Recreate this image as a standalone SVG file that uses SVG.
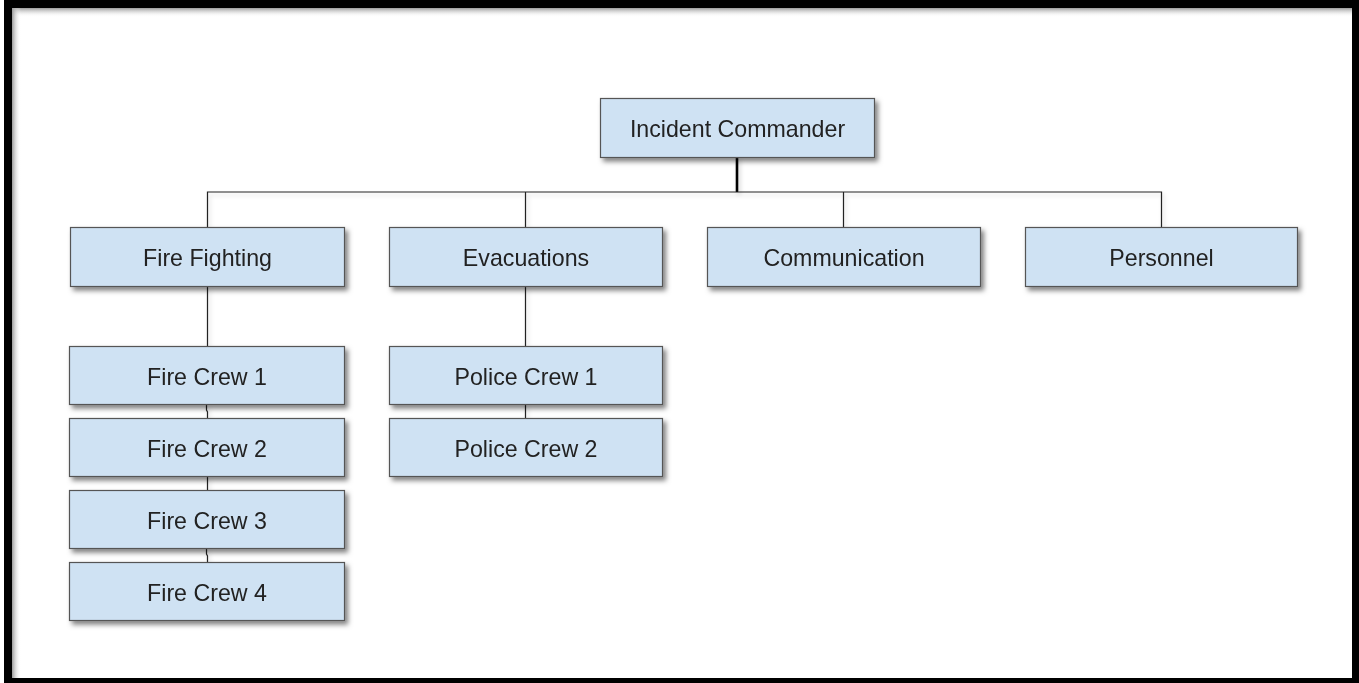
<svg xmlns="http://www.w3.org/2000/svg" width="1359" height="683" viewBox="0 0 1359 683">
<defs>
<filter id="sh" x="-10%" y="-20%" width="130%" height="160%">
<feDropShadow dx="3" dy="3.5" stdDeviation="2.5" flood-color="#000" flood-opacity="0.5"/>
</filter>
<filter id="lsh" x="-5%" y="-50%" width="110%" height="300%">
<feDropShadow dx="2" dy="3" stdDeviation="2" flood-color="#000" flood-opacity="0.18"/>
</filter>
<linearGradient id="gt" x1="0" y1="0" x2="0" y2="1">
<stop offset="0" stop-color="#9a9a9a"/>
<stop offset="1" stop-color="#ffffff" stop-opacity="0"/>
</linearGradient>
<linearGradient id="gl" x1="0" y1="0" x2="1" y2="0">
<stop offset="0" stop-color="#9a9a9a"/>
<stop offset="1" stop-color="#ffffff" stop-opacity="0"/>
</linearGradient>
</defs>
<style>
.box{fill:#cfe2f3;stroke:#555555;stroke-width:1.2}
.lbl{font-family:"Liberation Sans",Arial,sans-serif;font-size:23.2px;fill:#222;text-anchor:middle}
.ln{stroke:#222;stroke-width:1.2;fill:none}
</style>
<rect x="0" y="0" width="1359" height="683" fill="#000"/>
<rect x="0" y="0" width="4" height="683" fill="#fff"/>
<rect x="12" y="8" width="1340" height="670" fill="#fff"/>
<rect x="12" y="8" width="1340" height="9" fill="url(#gt)"/>
<rect x="12" y="8" width="9" height="670" fill="url(#gl)"/>

<g id="connectors" filter="url(#lsh)">
<line x1="737" y1="157" x2="737" y2="192" style="stroke-width:2.6;stroke:#000"/>
<polyline class="ln" points="207.5,227 207.5,192 1161.5,192 1161.5,227"/>
<line class="ln" x1="525.5" y1="192" x2="525.5" y2="227"/>
<line class="ln" x1="843.5" y1="192" x2="843.5" y2="227"/>
<line class="ln" x1="207.5" y1="287" x2="207.5" y2="346"/>
<line class="ln" x1="525.5" y1="287" x2="525.5" y2="346"/>
<path class="ln" d="M206.5 405 V410 L207.5 412 V418"/>
<line class="ln" x1="207.5" y1="477" x2="207.5" y2="490"/>
<path class="ln" d="M206.5 549 V554 L207.5 556 V562"/>
<line class="ln" x1="525.5" y1="405" x2="525.5" y2="418"/>
</g>

<g id="incident-commander" filter="url(#sh)"><rect class="box" x="600.5" y="98.5" width="274" height="59"/><text class="lbl" x="737.5" y="136.5">Incident Commander</text></g>

<g id="fire-fighting" filter="url(#sh)"><rect class="box" x="70.5" y="227.5" width="274" height="59"/><text class="lbl" x="207.5" y="265.5">Fire Fighting</text></g>
<g id="evacuations" filter="url(#sh)"><rect class="box" x="389.5" y="227.5" width="273" height="59"/><text class="lbl" x="526" y="265.5">Evacuations</text></g>
<g id="communication" filter="url(#sh)"><rect class="box" x="707.5" y="227.5" width="273" height="59"/><text class="lbl" x="844" y="265.5">Communication</text></g>
<g id="personnel" filter="url(#sh)"><rect class="box" x="1025.5" y="227.5" width="272" height="59"/><text class="lbl" x="1161.5" y="265.5">Personnel</text></g>

<g id="fire-crew-1" filter="url(#sh)"><rect class="box" x="69.5" y="346.5" width="275" height="58"/><text class="lbl" x="207" y="384.5">Fire Crew 1</text></g>
<g id="fire-crew-2" filter="url(#sh)"><rect class="box" x="69.5" y="418.5" width="275" height="58"/><text class="lbl" x="207" y="456.5">Fire Crew 2</text></g>
<g id="fire-crew-3" filter="url(#sh)"><rect class="box" x="69.5" y="490.5" width="275" height="58"/><text class="lbl" x="207" y="528.5">Fire Crew 3</text></g>
<g id="fire-crew-4" filter="url(#sh)"><rect class="box" x="69.5" y="562.5" width="275" height="58"/><text class="lbl" x="207" y="600.5">Fire Crew 4</text></g>

<g id="police-crew-1" filter="url(#sh)"><rect class="box" x="389.5" y="346.5" width="273" height="58"/><text class="lbl" x="526" y="384.5">Police Crew 1</text></g>
<g id="police-crew-2" filter="url(#sh)"><rect class="box" x="389.5" y="418.5" width="273" height="58"/><text class="lbl" x="526" y="456.5">Police Crew 2</text></g>
</svg>
